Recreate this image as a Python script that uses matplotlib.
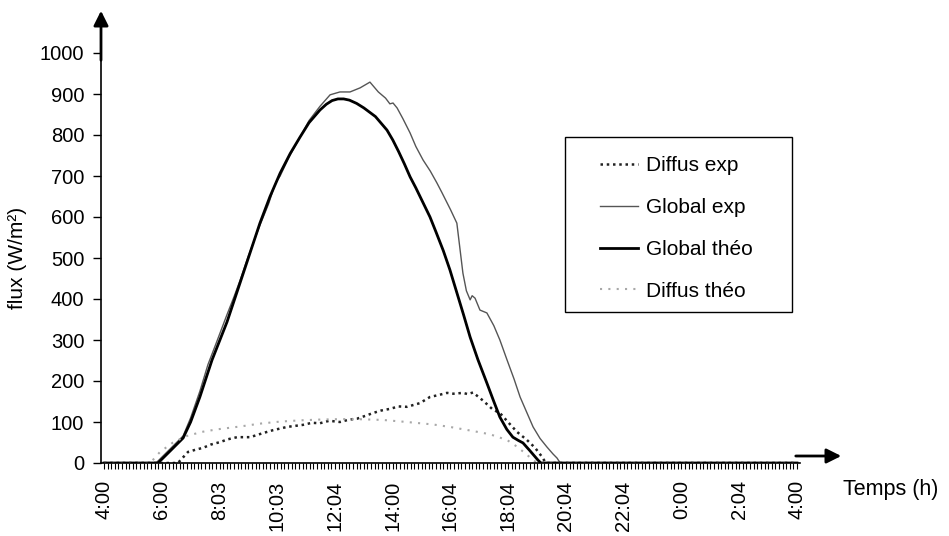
import matplotlib.pyplot as plt
from matplotlib.patches import Rectangle

plt.rcParams['font.family'] = ['Liberation Sans', 'DejaVu Sans']

# time in decimal hours (4:00 -> 28:00 = 4:00 next day), flux in W/m2
global_theo_t = [4.0, 5.87, 6.3, 6.74, 7.0, 7.32, 7.74, 8.26, 8.71, 9.40, 9.75, 10.10, 10.45, 10.79,
                 11.1, 11.48, 11.7, 11.9, 12.1, 12.3, 12.5, 12.75, 13.0, 13.4, 13.8, 14.0, 14.2,
                 14.4, 14.6, 14.8, 15.0, 15.29, 15.5, 15.75, 15.98, 16.2, 16.45, 16.68, 16.95,
                 17.26, 17.5, 17.71, 17.95, 18.16, 18.35, 18.51, 18.75, 19.03, 19.13, 28.0]
global_theo = [0, 0, 30, 61, 100, 161, 251, 344, 439, 585, 650, 707, 755, 795,
               830, 861, 875, 884, 888, 888, 885, 877, 866, 845, 812, 788, 760,
               730, 698, 671, 642, 600, 563, 518, 471, 420, 362, 307, 252,
               195, 150, 112, 82, 63, 55, 49, 30, 7, 0, 0]

global_exp_t = [4.0, 5.80, 6.3, 6.74, 7.0, 7.32, 7.6, 7.9, 8.26, 8.5, 8.71, 9.0, 9.40, 9.7, 9.9,
                10.0, 10.1, 10.4, 10.79, 11.1, 11.48, 11.83, 12.17, 12.52, 12.87, 13.21, 13.5,
                13.75, 13.9, 14.01, 14.15, 14.35, 14.60, 14.8, 15.05, 15.3, 15.53, 15.7, 16.0,
                16.22, 16.43, 16.55, 16.68, 16.75, 16.85, 17.02, 17.26, 17.5, 17.71, 17.96, 18.2,
                18.41, 18.65, 18.86, 19.1, 19.34, 19.55, 19.69, 19.8, 28.0]
global_exp = [0, 0, 35, 66, 110, 175, 240, 295, 362, 405, 445, 505, 580, 632, 675,
              690, 700, 745, 795, 835, 870, 898, 905, 905, 915, 929, 905,
              890, 876, 878, 866, 840, 805, 772, 739, 712, 683, 660, 618,
              585, 463, 420, 398, 408, 402, 373, 366, 335, 300, 251, 205,
              161, 122, 88, 60, 39, 22, 12, 0, 0]

diffus_exp_t = [4.0, 6.56, 6.91, 7.2, 7.43, 7.7, 8.02, 8.3, 8.61, 9.06, 9.51, 9.85, 10.34, 10.89,
                11.2, 11.48, 11.8, 12.17, 12.5, 12.76, 13.05, 13.32, 13.6, 13.90, 14.2, 14.49,
                14.94, 15.29, 15.6, 15.88, 16.1, 16.43, 16.6, 16.78, 17.13, 17.47, 17.71, 17.99,
                18.3, 18.65, 18.93, 19.17, 19.3, 28.0]
diffus_exp = [0, 0, 27, 33, 37, 45, 51, 58, 63, 63, 73, 80, 88, 93,
              98, 97, 103, 100, 106, 108, 115, 122, 128, 132, 138, 137,
              146, 161, 166, 171, 169, 171, 168, 172, 152, 130, 122, 100,
              76, 56, 37, 15, 0, 0]

diffus_theo_t = [4.0, 5.6, 5.94, 6.39, 6.87, 7.4, 7.91, 8.71, 9.40, 10.10, 10.79, 11.5, 12.2,
                 12.76, 13.66, 14.49, 15.39, 15.98, 16.78, 17.37, 17.96, 18.30, 18.65, 18.86,
                 19.0, 28.0]
diffus_theo = [0, 0, 27, 50, 66, 76, 82, 89, 96, 101, 104, 106, 107,
               107, 105, 100, 94, 88, 78, 70, 56, 40, 20, 7,
               0, 0]

tick_pos = [4, 6, 8, 10, 12, 14, 16, 18, 20, 22, 24, 26, 28]
tick_labels = ['4:00', '6:00', '8:03', '10:03', '12:04', '14:00', '16:04', '18:04',
               '20:04', '22:04', '0:00', '2:04', '4:00']

W, H = 949, 536
fig = plt.figure(figsize=(W / 100, H / 100), dpi=100)
ax = fig.add_axes([101 / W, (H - 463) / H, 699 / W, 410 / H])

ax.plot(diffus_exp_t, diffus_exp, color='#222222', lw=1.8, ls=(0, (1, 1.5)), label='Diffus exp')
ax.plot(global_exp_t, global_exp, color='#555555', lw=1.0, label='Global exp')
ax.plot(global_theo_t, global_theo, color='black', lw=2.0, label='Global théo')
ax.plot(diffus_theo_t, diffus_theo, color='#a8a8a8', lw=1.5, ls=(0, (1, 3)), label='Diffus théo')

ax.set_xlim(4 - 3 / 28.875, 28 + 3 / 28.875)
ax.set_ylim(0, 1000)
ax.set_yticks(range(0, 1001, 100))
ax.set_xticks(tick_pos)
ax.set_xticklabels(tick_labels, rotation=90)
ax.set_xticks([4 + i / 8 for i in range(24 * 8 + 1)], minor=True)

ax.tick_params(axis='y', direction='out', length=6, width=1, pad=6, labelsize=14.5)
ax.tick_params(axis='x', which='both', direction='out', length=4.5, width=0.8, pad=8, labelsize=14.5)

for side in ['top', 'right']:
    ax.spines[side].set_visible(False)
for side in ['left', 'bottom']:
    ax.spines[side].set_linewidth(1.2)

# axis arrows
ax.annotate('', xy=(101, H - 8), xytext=(101, H - 63), xycoords='figure pixels',
            arrowprops=dict(arrowstyle='-|>', lw=2, color='black', mutation_scale=22))
ax.annotate('', xy=(844, H - 456), xytext=(793, H - 456), xycoords='figure pixels',
            arrowprops=dict(arrowstyle='-|>', lw=2, color='black', mutation_scale=22))

fig.text(18 / W, 1 - 258 / H, 'flux (W/m²)', rotation=90, ha='center', va='center', fontsize=15)
fig.text(843 / W, 1 - 490 / H, 'Temps (h)', ha='left', va='center', fontsize=15.5)

# legend inside a hand drawn box
fig.patches.append(Rectangle((565 / W, (H - 312) / H), 227 / W, 175 / H, transform=fig.transFigure,
                             fill=False, edgecolor='black', lw=1.0))
fig.legend(loc='upper left', bbox_to_anchor=(600 / W, 1 - 156 / H), frameon=False,
           fontsize=15, borderpad=0, borderaxespad=0, handlelength=1.8, handletextpad=0.4,
           labelspacing=1.1)

fig.savefig('out.png', dpi=100)
